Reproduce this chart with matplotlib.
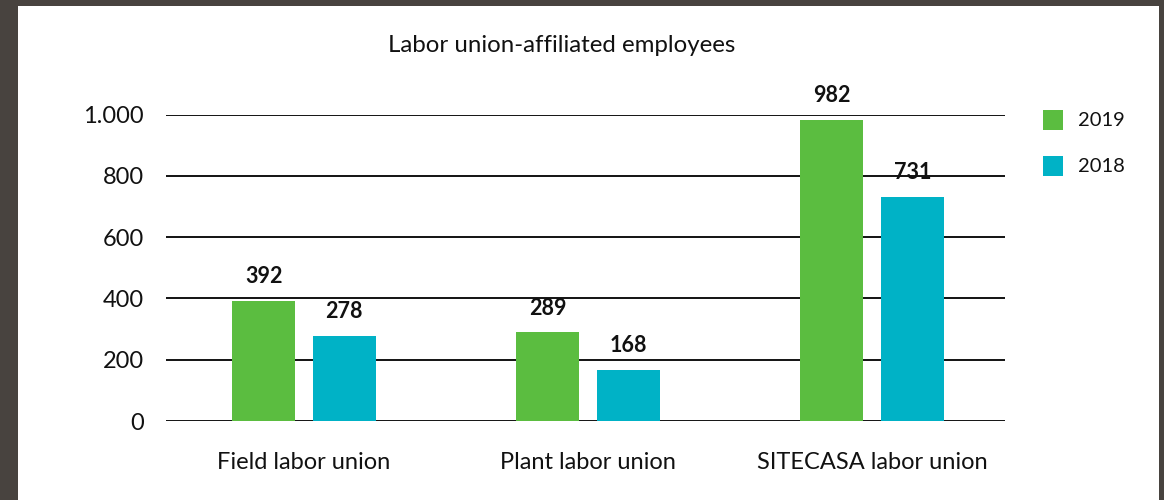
import matplotlib
matplotlib.use("Agg")
import matplotlib.pyplot as plt
from matplotlib.patches import Rectangle
import numpy as np

plt.rcParams['font.family'] = ['Lato', 'DejaVu Sans']

categories = ["Field labor union", "Plant labor union", "SITECASA labor union"]
series_names = ["2019", "2018"]
values_2019 = [392, 289, 982]
values_2018 = [278, 168, 731]
y_ticks = [0, 200, 400, 600, 800, 1000]
y_tick_labels = ["0", "200", "400", "600", "800", "1.000"]
title = "Labor union-affiliated employees"

green = "#5bbd40"
teal = "#00b2c6"

W, H = 1164, 500
fig = plt.figure(figsize=(W / 100, H / 100), dpi=100)
fig.patch.set_facecolor("#48433f")

# white card over the dark backdrop
fig.patches.append(Rectangle((18 / W, 0), (1159 - 18) / W, (H - 6) / H,
                             transform=fig.transFigure, facecolor="white",
                             edgecolor="none", zorder=-5))

ax = fig.add_axes([166 / W, 79 / H, 839 / W, 306.5 / H])
ax.set_facecolor("none")
ax.set_zorder(2)

x = np.arange(len(categories))
width = 0.222
offset = 0.142

for t in y_ticks:
    ax.axhline(t, color="black", lw=1.3, zorder=1)

b1 = ax.bar(x - offset, values_2019, width, color=green, zorder=2, label=series_names[0])
b2 = ax.bar(x + offset, values_2018, width, color=teal, zorder=2, label=series_names[1])

for bars, vals in ((b1, values_2019), (b2, values_2018)):
    for rect, v in zip(bars, vals):
        ax.annotate(f"{v}", (rect.get_x() + rect.get_width() / 2, v),
                    xytext=(0, 10), textcoords="offset points",
                    ha="center", va="bottom", fontsize=15.5, fontweight="bold",
                    color="#111111")

ax.set_xlim(-0.486, 2.468)
ax.set_ylim(0, 1000)
ax.set_yticks(y_ticks)
ax.set_yticklabels(y_tick_labels, fontsize=17, color="#111111")
ax.set_xticks(x)
ax.set_xticklabels(categories, fontsize=17, color="#111111")
ax.tick_params(axis="y", length=0, pad=16)
ax.tick_params(axis="x", length=0, pad=22)
for s in ax.spines.values():
    s.set_visible(False)

fig.text(562 / W, 1 - 45 / H, title, ha="center", va="center",
         fontsize=17.3, color="#111111")

# legend drawn as squares with labels
for i, (name, col) in enumerate(zip(series_names, [green, teal])):
    yc = 1 - (120 + 46 * i) / H
    fig.patches.append(Rectangle((1043 / W, yc - 10 / H), 20 / W, 20 / H,
                                 transform=fig.transFigure, facecolor=col,
                                 edgecolor="none"))
    fig.text(1078 / W, yc, name, ha="left", va="center", fontsize=14.5,
             color="#111111")

fig.savefig("out.png", dpi=100, facecolor=fig.get_facecolor())
